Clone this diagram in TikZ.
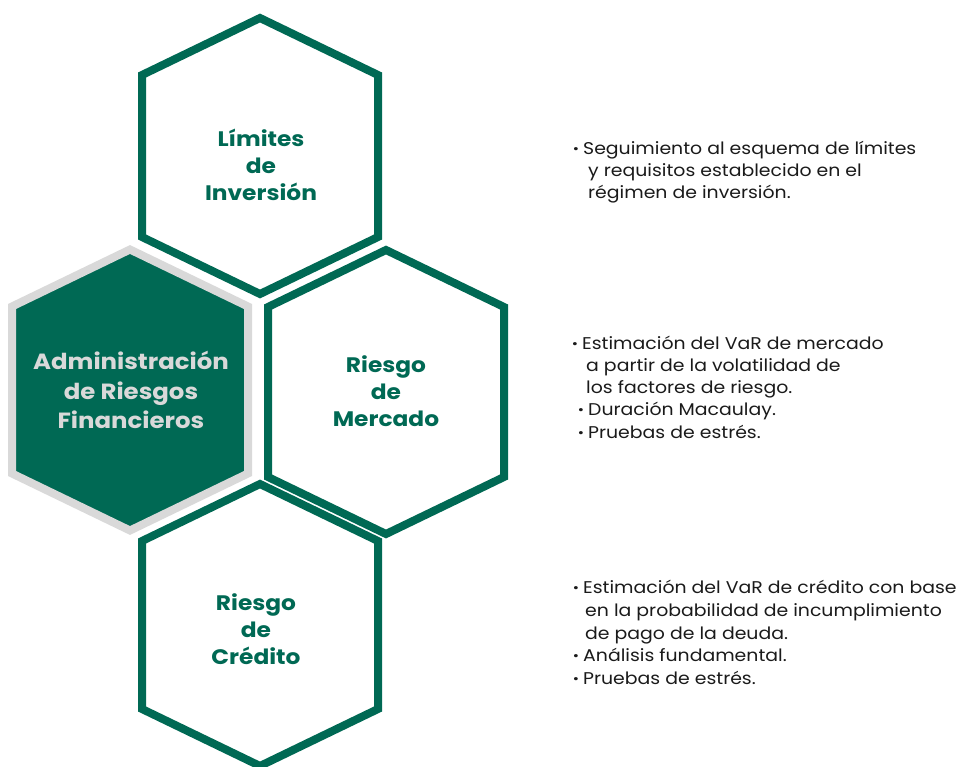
\documentclass[tikz,border=0pt]{standalone}
\usepackage{fontspec}
\setmainfont{Poppins}[FakeStretch=1.11]
\definecolor{hexgreen}{RGB}{0,105,84}
\definecolor{hexgray}{RGB}{217,217,217}
\definecolor{desctext}{RGB}{26,26,26}
\newcommand\hexpath[1]{(0,-#1) -- (118,-#1+57) -- (118,#1-57) -- (0,#1) -- (-118,#1-57) -- (-118,-#1+57) -- cycle}
\newcommand\bul{\makebox[10pt][l]{\textbf{·}}}
\begin{document}
\begin{tikzpicture}[x=1pt,y=-1pt,
  hexline/.style={draw=hexgreen,line width=8pt,line join=miter,fill=white},
  hexcore/.style={draw=hexgray,line width=8pt,line join=miter,fill=hexgreen},
  hextitle/.style={font=\bfseries\fontsize{21}{27}\selectfont,text=hexgreen,align=center,inner sep=0},
  coretitle/.style={font=\bfseries\fontsize{22}{29.5}\selectfont,text=hexgray,align=center,inner sep=0},
  descline/.style={anchor=base west,inner sep=0,font=\fontsize{17}{22}\selectfont,text=desctext}]
\useasboundingbox (0,0) rectangle (959,767);
% hexagon centres
\coordinate (climites) at (260,156);
\coordinate (cadmin) at (130,390);
\coordinate (cmercado) at (386,392);
\coordinate (ccredito) at (260,625);
% hexagons
\draw[hexline, shift={(climites)}] \hexpath{138};
\draw[hexcore, shift={(cadmin)}] \hexpath{140.5};
\draw[hexline, shift={(cmercado)}] \hexpath{142};
\draw[hexline, shift={(ccredito)}] \hexpath{141};
% titles
\node[hextitle] (tlimites) at (261,165) {Límites\\de\\Inversión};
\node[coretitle] (tadmin) at (131,390) {Administración\\de Riesgos\\Financieros};
\node[hextitle] (tmercado) at (386,391.5) {Riesgo\\de\\Mercado};
\node[hextitle] (tcredito) at (256,629.5) {Riesgo\\de\\Crédito};
% descriptions: limites
\node[descline] (d1a) at (573,155) {\bul Seguimiento al esquema de límites};
\node[descline] (d1b) at (588,176.7) {y requisitos establecido en el};
\node[descline] (d1c) at (588,198.3) {régimen de inversión.};
% mercado
\node[descline] (d2a) at (572,350) {\bul Estimación del VaR de mercado};
\node[descline] (d2b) at (586,371.8) {a partir de la volatilidad de};
\node[descline] (d2c) at (586,394) {los factores de riesgo.};
\node[descline] (d2d) at (578,416) {\bul Duración Macaulay.};
\node[descline] (d2e) at (578,438) {\bul Pruebas de estrés.};
% credito
\node[descline] (d3a) at (573,593.5) {\bul Estimación del VaR de crédito con base};
\node[descline] (d3b) at (585,616.5) {en la probabilidad de incumplimiento};
\node[descline] (d3c) at (585,639.5) {de pago de la deuda.};
\node[descline] (d3d) at (573,661.5) {\bul Análisis fundamental.};
\node[descline] (d3e) at (573,684.5) {\bul Pruebas de estrés.};
\end{tikzpicture}
\end{document}
